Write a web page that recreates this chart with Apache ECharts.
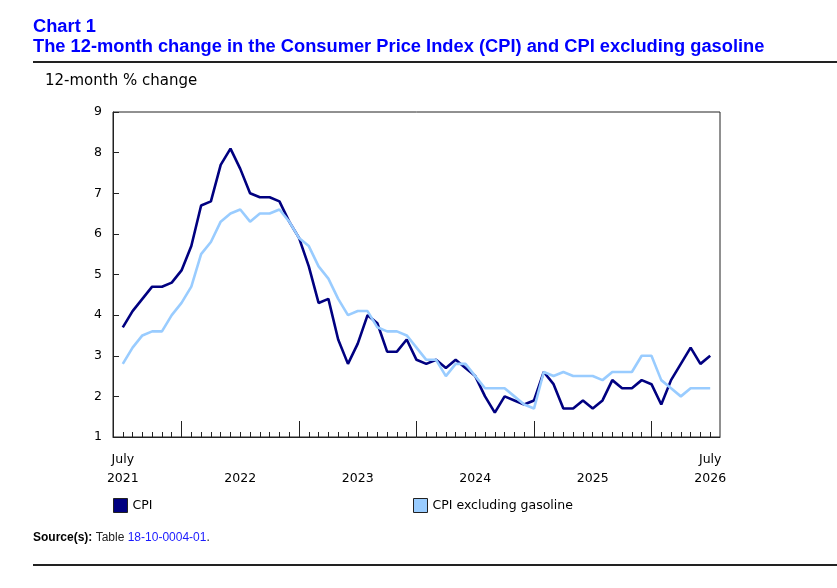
<!DOCTYPE html>
<html lang="en">
<head>
    <meta charset="UTF-8">
    <title>Chart 1</title>
    <style>
        html, body { margin: 0; padding: 0; background: #fff; }
        #main { width: 837px; height: 588px; }
    </style>
</head>
<body>
<div id="main"></div>
<script src="https://cdn.jsdelivr.net/npm/echarts@6/dist/echarts.min.js"></script>
<script type="text/javascript">
    // months, July 2021 to July 2026
    var months = [
        '2021-07', '2021-08', '2021-09', '2021-10', '2021-11', '2021-12',
        '2022-01', '2022-02', '2022-03', '2022-04', '2022-05', '2022-06', '2022-07', '2022-08', '2022-09', '2022-10', '2022-11', '2022-12',
        '2023-01', '2023-02', '2023-03', '2023-04', '2023-05', '2023-06', '2023-07', '2023-08', '2023-09', '2023-10', '2023-11', '2023-12',
        '2024-01', '2024-02', '2024-03', '2024-04', '2024-05', '2024-06', '2024-07', '2024-08', '2024-09', '2024-10', '2024-11', '2024-12',
        '2025-01', '2025-02', '2025-03', '2025-04', '2025-05', '2025-06', '2025-07', '2025-08', '2025-09', '2025-10', '2025-11', '2025-12',
        '2026-01', '2026-02', '2026-03', '2026-04', '2026-05', '2026-06', '2026-07'
    ];

    var cpi = [
        3.7, 4.1, 4.4, 4.7, 4.7, 4.8,
        5.1, 5.7, 6.7, 6.8, 7.7, 8.1, 7.6, 7.0, 6.9, 6.9, 6.8, 6.3,
        5.9, 5.2, 4.3, 4.4, 3.4, 2.8, 3.3, 4.0, 3.8, 3.1, 3.1, 3.4,
        2.9, 2.8, 2.9, 2.7, 2.9, 2.7, 2.5, 2.0, 1.6, 2.0, 1.9, 1.8,
        1.9, 2.6, 2.3, 1.7, 1.7, 1.9, 1.7, 1.9, 2.4, 2.2, 2.2, 2.4,
        2.3, 1.8, 2.4, 2.8, 3.2, 2.8, 3.0
    ];

    var cpiExGas = [
        2.8, 3.2, 3.5, 3.6, 3.6, 4.0,
        4.3, 4.7, 5.5, 5.8, 6.3, 6.5, 6.6, 6.3, 6.5, 6.5, 6.6, 6.3,
        5.9, 5.7, 5.2, 4.9, 4.4, 4.0, 4.1, 4.1, 3.7, 3.6, 3.6, 3.5,
        3.2, 2.9, 2.9, 2.5, 2.8, 2.8, 2.5, 2.2, 2.2, 2.2, 2.0, 1.8,
        1.7, 2.6, 2.5, 2.6, 2.5, 2.5, 2.5, 2.4, 2.6, 2.6, 2.6, 3.0,
        3.0, 2.4, 2.2, 2.0, 2.2, 2.2, 2.2
    ];

    // x labels sit under each July
    var labelMonths = ['2021-07', '2022-07', '2023-07', '2024-07', '2025-07', '2026-07'];
    var labelTexts = ['July\n2021', '\n2022', '\n2023', '\n2024', '\n2025', 'July\n2026'];

    var seriesNames = ['CPI', 'CPI excluding gasoline'];

    // one empty month padded on each side, like the original axis
    var axisCats = ['pad0'].concat(months).concat(['pad1']);
    function padData(arr) {
        return [null].concat(arr).concat([null]);
    }

    var verdana = 'DejaVu Sans';
    var arial = 'Liberation Sans';

    var myChart = echarts.init(document.getElementById('main'));

    myChart.setOption({
        animation: false,
        backgroundColor: '#fff',
        title: [
            {
                text: 'Chart 1\nThe 12-month change in the Consumer Price Index (CPI) and CPI excluding gasoline',
                left: 33,
                top: 17,
                padding: 0,
                textStyle: {
                    color: '#0000ff',
                    fontFamily: arial,
                    fontWeight: 'bold',
                    fontSize: 18.3,
                    lineHeight: 20
                }
            },
            {
                text: '12-month % change',
                left: 45,
                top: 72,
                padding: 0,
                textStyle: {
                    color: '#000',
                    fontFamily: verdana,
                    fontWeight: 'normal',
                    fontSize: 15,
                    lineHeight: 18
                }
            },
            {
                text: '{b|Source(s):}{n| Table }{l|18-10-0004-01}{n|.}',
                left: 33,
                top: 532,
                padding: 0,
                textStyle: {
                    fontWeight: 'normal',
                    rich: {
                        b: { fontFamily: arial, fontWeight: 'bold', fontSize: 12, color: '#000' },
                        n: { fontFamily: arial, fontWeight: 'normal', fontSize: 12, color: '#222' },
                        l: { fontFamily: arial, fontWeight: 'normal', fontSize: 12, color: '#1a1aff' }
                    }
                }
            }
        ],
        graphic: [
            { type: 'rect', shape: { x: 33, y: 61, width: 804, height: 2 }, style: { fill: '#222' } },
            { type: 'rect', shape: { x: 33, y: 564, width: 804, height: 2 }, style: { fill: '#222' } }
        ],
        legend: [
            {
                data: [seriesNames[0]],
                left: 113,
                top: 498,
                padding: 0,
                icon: 'rect',
                itemWidth: 14,
                itemHeight: 14,
                itemStyle: { borderColor: '#222', borderWidth: 1 },
                textStyle: { fontFamily: verdana, fontSize: 12.5, color: '#000' }
            },
            {
                data: [seriesNames[1]],
                left: 413,
                top: 498,
                padding: 0,
                icon: 'rect',
                itemWidth: 14,
                itemHeight: 14,
                itemStyle: { borderColor: '#222', borderWidth: 1 },
                textStyle: { fontFamily: verdana, fontSize: 12.5, color: '#000' }
            }
        ],
        grid: {
            left: 113,
            top: 112,
            width: 607,
            height: 325,
            show: true,
            borderColor: '#222',
            borderWidth: 1,
            backgroundColor: 'transparent'
        },
        xAxis: [
            {
                type: 'category',
                data: axisCats,
                boundaryGap: false,
                axisLine: { lineStyle: { color: '#222', width: 1 } },
                axisTick: {
                    inside: true,
                    length: 5,
                    lineStyle: { color: '#222' },
                    interval: function (i) { return i >= 1 && i <= months.length; }
                },
                axisLabel: {
                    interval: function (i, v) { return labelMonths.indexOf(v) >= 0; },
                    formatter: function (v) {
                        var k = labelMonths.indexOf(v);
                        return k >= 0 ? labelTexts[k] : '';
                    },
                    margin: 13,
                    fontFamily: verdana,
                    fontSize: 12.5,
                    lineHeight: 19,
                    color: '#000'
                },
                splitLine: { show: false }
            },
            {
                // longer ticks at each January
                type: 'category',
                data: axisCats,
                position: 'bottom',
                boundaryGap: false,
                axisLine: { show: false },
                axisTick: {
                    inside: true,
                    length: 16,
                    lineStyle: { color: '#222' },
                    interval: function (i, v) { return v.slice(5) === '01'; }
                },
                axisLabel: { show: false },
                splitLine: { show: false }
            }
        ],
        yAxis: {
            type: 'value',
            min: 1,
            max: 9,
            interval: 1,
            axisLine: { show: true, lineStyle: { color: '#222' } },
            axisTick: { show: true, inside: true, length: 6, lineStyle: { color: '#222' } },
            axisLabel: { fontFamily: verdana, fontSize: 12.5, color: '#000', margin: 11 },
            splitLine: { show: false }
        },
        series: [
            {
                name: seriesNames[0],
                type: 'line',
                data: padData(cpi),
                symbol: 'none',
                color: '#000080',
                lineStyle: { width: 2.6, color: '#000080' }
            },
            {
                name: seriesNames[1],
                type: 'line',
                data: padData(cpiExGas),
                symbol: 'none',
                color: '#99ccff',
                lineStyle: { width: 2.6, color: '#99ccff' }
            }
        ]
    });
</script>
</body>
</html>
